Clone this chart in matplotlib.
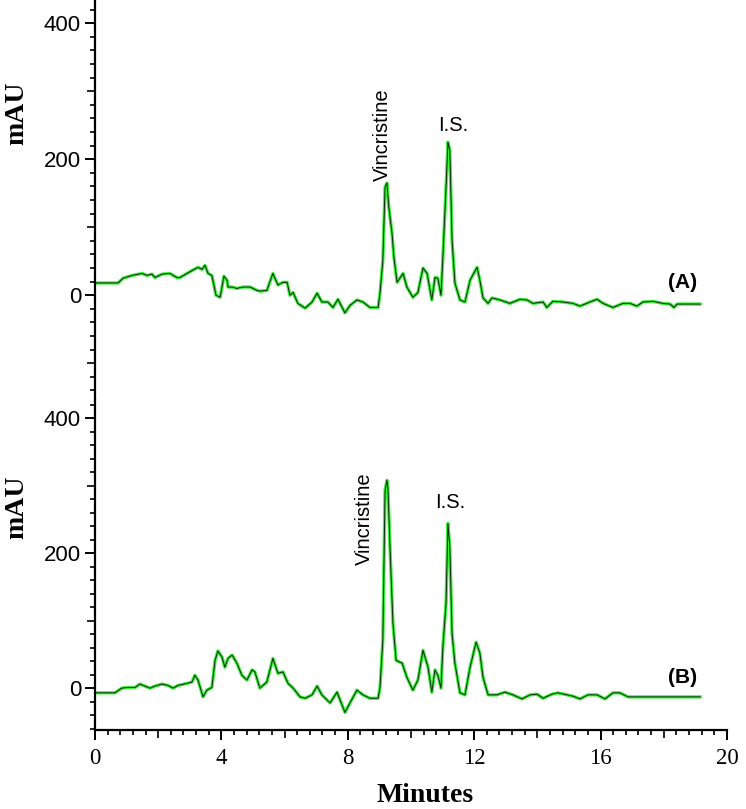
import numpy as np
import matplotlib
matplotlib.use('Agg')
import matplotlib.pyplot as plt
from matplotlib.ticker import MultipleLocator

# chromatogram (A): time in minutes, absorbance in mAU
time_a = [0.0, 0.73, 0.89, 1.17, 1.49, 1.65, 1.80, 1.90, 2.12, 2.37, 2.59, 2.69, 2.91, 3.10,
          3.26, 3.39, 3.48, 3.58, 3.70, 3.83, 3.96, 4.02, 4.08, 4.18, 4.21, 4.34, 4.49, 4.68,
          4.91, 5.13, 5.22, 5.44, 5.63, 5.79, 5.95, 6.08, 6.17, 6.27, 6.42, 6.65, 6.87, 7.03,
          7.18, 7.37, 7.53, 7.69, 7.91, 8.07, 8.29, 8.48, 8.70, 8.96, 9.02, 9.11, 9.18, 9.24, 9.30,
          9.40, 9.46, 9.56, 9.75, 9.87, 10.06, 10.22, 10.38, 10.51, 10.66, 10.76, 10.85, 10.95,
          11.01, 11.11, 11.17, 11.23, 11.30, 11.39, 11.55, 11.71, 11.87, 12.09, 12.18, 12.28,
          12.44, 12.56, 12.82, 13.13, 13.45, 13.67, 13.86, 14.18, 14.30, 14.49, 14.81, 15.13,
          15.35, 15.66, 15.89, 16.08, 16.39, 16.71, 16.93, 17.15, 17.34, 17.66, 17.97, 18.20,
          18.32, 18.42, 19.15]
mau_a = [18, 18, 25, 29, 32, 29, 31, 26, 31, 32, 26, 26, 32, 37,
         41, 38, 44, 32, 29, 0, -3, 12, 28, 22, 12, 12, 10, 12,
         12, 7, 6, 7, 32, 15, 19, 19, 0, 4, -12, -19, -10, 3,
         -10, -10, -18, -6, -26, -15, -7, -10, -18, -18, 3, 51, 159, 165, 129,
         91, 56, 19, 32, 12, -3, 4, 40, 32, -7, 26, 25, 0,
         56, 159, 225, 213, 81, 18, -7, -10, 22, 41, 22, -4,
         -12, -4, -7, -12, -6, -7, -12, -10, -18, -9, -10, -12,
         -16, -10, -6, -12, -18, -12, -12, -16, -10, -9, -12, -13,
         -18, -13, -13]

# chromatogram (B)
time_b = [0.0, 0.63, 0.85, 1.04, 1.27, 1.42, 1.58, 1.74, 1.90, 2.12, 2.31, 2.47, 2.63, 2.91,
          3.07, 3.16, 3.26, 3.42, 3.54, 3.70, 3.80, 3.89, 4.02, 4.11, 4.21, 4.34, 4.49, 4.65,
          4.81, 4.97, 5.06, 5.22, 5.44, 5.63, 5.79, 5.95, 6.11, 6.27, 6.49, 6.65, 6.87, 7.03,
          7.18, 7.44, 7.66, 7.91, 8.07, 8.29, 8.48, 8.70, 8.96, 9.02, 9.11, 9.18, 9.24, 9.27,
          9.34, 9.43, 9.53, 9.72, 9.87, 10.06, 10.22, 10.38, 10.54, 10.66, 10.76, 10.85, 10.95,
          11.01, 11.11, 11.17, 11.23, 11.30, 11.39, 11.55, 11.71, 11.87, 12.06, 12.18, 12.28,
          12.44, 12.72, 12.97, 13.23, 13.51, 13.77, 13.99, 14.18, 14.46, 14.65, 14.94, 15.13,
          15.35, 15.60, 15.89, 16.14, 16.39, 16.61, 16.87, 19.15]
mau_b = [-7, -7, 0, 1, 1, 6, 3, 0, 3, 6, 4, 0, 4, 7,
         9, 19, 12, -13, -3, 1, 41, 55, 46, 31, 44, 49, 37, 19,
         12, 27, 24, 0, 9, 44, 22, 24, 7, 0, -13, -15, -10, 3,
         -10, -22, -6, -36, -22, -3, -10, -15, -15, 1, 71, 293, 308, 298,
         204, 96, 41, 37, 16, -3, 12, 56, 31, -6, 27, 19, 0,
         61, 126, 244, 209, 81, 37, -7, -10, 31, 68, 52, 16,
         -10, -10, -6, -10, -16, -10, -9, -15, -9, -7, -10, -12,
         -16, -10, -10, -16, -7, -7, -13, -13]

green = '#3cf03c'
core = '#0f300f'
serif = 'Liberation Serif'
sans = 'Liberation Sans'

fig = plt.figure(figsize=(7.46, 8.09), dpi=100)
ax_a = fig.add_axes([0.1273, 0.5056, 0.8472, 0.4944])
ax_b = fig.add_axes([0.1273, 0.0977, 0.8472, 0.4079], sharex=ax_a)

panels = [(ax_a, time_a, mau_a, (-154, 434), '(A)', 19, (9.1, 168), (11.33, 235)),
          (ax_b, time_b, mau_b, (-62, 427), '(B)', 16, (8.54, 182), (11.23, 261))]

for ax, t, y, ylim, tag, tag_y, vin_pos, is_pos in panels:
    ax.plot(t, y, color=green, lw=2.4)
    ax.plot(t, y, color=core, lw=0.75)
    ax.set_xlim(0, 20)
    ax.set_ylim(*ylim)
    for s in ['top', 'right']:
        ax.spines[s].set_visible(False)
    ax.spines['left'].set_linewidth(1.6)
    ax.spines['bottom'].set_linewidth(1.6)
    ax.yaxis.set_major_locator(MultipleLocator(200))
    ax.yaxis.set_minor_locator(MultipleLocator(20))
    ax.tick_params(axis='y', which='major', direction='out', length=7, width=1.4,
                   labelsize=16, pad=3)
    ax.tick_params(axis='y', which='minor', direction='out', length=3.5, width=1.2)
    for lab in ax.get_yticklabels():
        lab.set_fontfamily(sans)
    ax.text(-0.123, 268, 'mAU', transform=ax.get_yaxis_transform(), rotation=90,
            ha='center', va='center', fontsize=20, fontweight='bold', family=serif)
    ax.text(18.6, tag_y, tag, ha='center', va='center', fontsize=15,
            fontweight='bold', family=sans)
    ax.text(vin_pos[0], vin_pos[1], 'Vincristine', rotation=90, ha='center', va='bottom',
            fontsize=14.5, family=sans)
    ax.text(is_pos[0], is_pos[1], 'I.S.', ha='center', va='bottom', fontsize=14.5, family=sans)

ax_a.spines['bottom'].set_visible(False)
ax_a.tick_params(axis='x', which='both', bottom=False, labelbottom=False)

ax_b.xaxis.set_major_locator(MultipleLocator(4))
ax_b.xaxis.set_minor_locator(MultipleLocator(0.4))
ax_b.tick_params(axis='x', which='major', direction='out', length=7, width=1.4,
                 labelsize=16.5, pad=6)
ax_b.tick_params(axis='x', which='minor', direction='out', length=3.5, width=1.2)
for lab in ax_b.get_xticklabels():
    lab.set_fontfamily(serif)
ax_b.set_xlabel('Minutes', fontsize=20, fontweight='bold', family=serif)
ax_b.xaxis.set_label_coords(0.522, -0.16)

# medium-length ticks at the half-way marks
fig.canvas.draw()
for tick, loc in zip(ax_b.xaxis.get_minor_ticks(), ax_b.xaxis.get_minorticklocs()):
    r = (loc - 2) % 4
    if r < 0.01 or r > 3.99:
        tick.tick1line.set_markersize(5.5)
for ax in (ax_a, ax_b):
    for tick, loc in zip(ax.yaxis.get_minor_ticks(), ax.yaxis.get_minorticklocs()):
        r = (loc - 100) % 200
        if r < 0.5 or r > 199.5:
            tick.tick1line.set_markersize(5.5)

fig.savefig('out.png', dpi=100)
